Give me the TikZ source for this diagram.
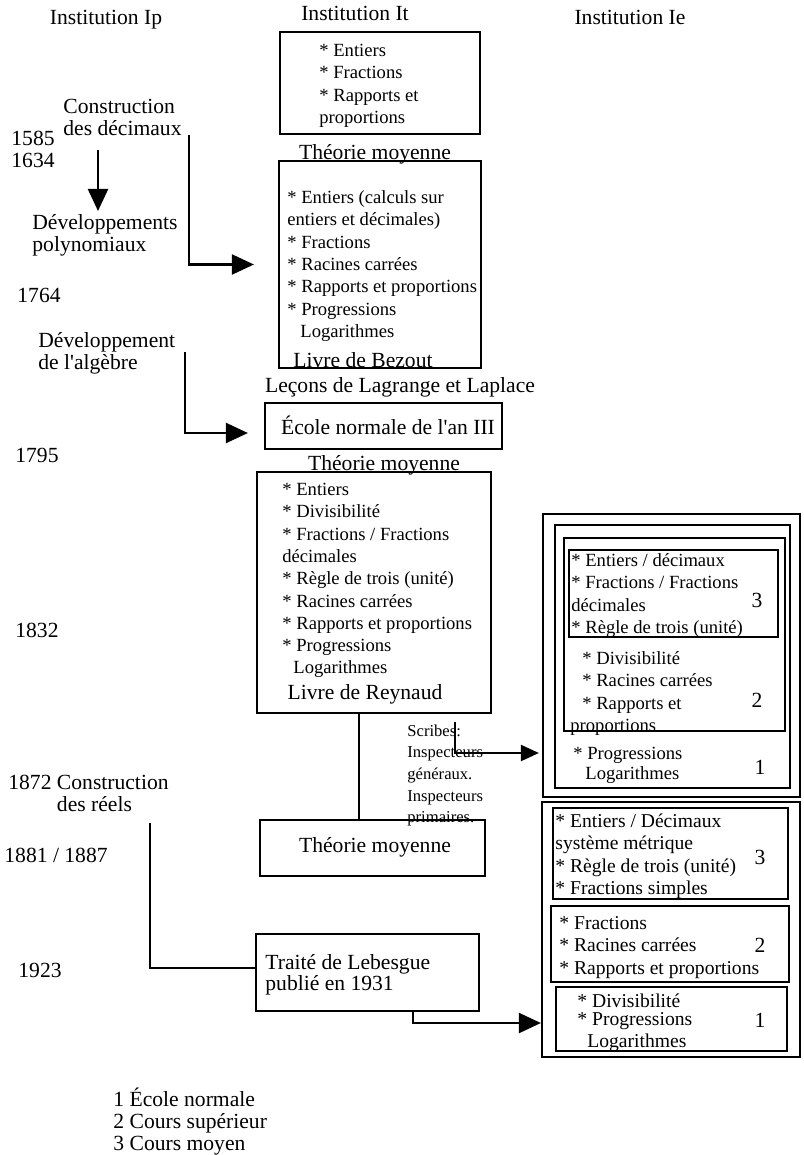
\documentclass[tikz,border=0pt]{standalone}
\usepackage{fontspec}
\setmainfont{Liberation Serif}
\usetikzlibrary{arrows.meta,fit}
\def\fbig{\fontsize{10.8}{11}\selectfont}
\def\flst{\fontsize{9.3}{11.15}\selectfont}
\def\flstb{\fontsize{9.8}{11.3}\selectfont}
\def\fsml{\fontsize{8.3}{10.85}\selectfont}
\def\lnrule{\rule{0pt}{1em}}
\tikzset{
  box/.style={draw, line width=1.1pt, inner sep=0pt},
  txt/.style={inner sep=0pt, align=left, anchor=north west},
  ctr/.style={inner sep=0pt, anchor=north},
  link/.style={line width=1.1pt},
  arr/.style={line width=1.1pt, -{Triangle[length=11pt,width=10pt]}}
}
\begin{document}
\begin{tikzpicture}[x=0.5pt,y=-0.5pt]
%%%%% START %%%%%
\useasboundingbox (0,0) rectangle (803,1155);

\node[ctr, font=\fbig] (tIp) at (106,2.5) {\lnrule Institution Ip};
\node[ctr, font=\fbig] (tIt) at (355,-1.5) {\lnrule Institution It};
\node[ctr, font=\fbig] (tIe) at (630,2.5) {\lnrule Institution Ie};

% Ip
\node[txt, font=\fbig] (cdec) at (63,91.5) {\lnrule Construction\\des décimaux};
\node[txt, font=\fbig] (y1585) at (11,123.5) {\lnrule 1585\\1634};
\node[txt, font=\fbig] (dpoly) at (32,207.5) {\lnrule Développements\\polynomiaux};
\node[txt, font=\fbig] (y1764) at (17,280.5) {\lnrule 1764};
\node[txt, font=\fbig] (dalg) at (38,325.5) {\lnrule Développement\\de l\textquotesingle algèbre};
\node[txt, font=\fbig] (y1795) at (15,440.5) {\lnrule 1795};
\node[txt, font=\fbig] (y1832) at (15,615.5) {\lnrule 1832};
\node[txt, font=\fbig] (creel) at (8,767.5) {\lnrule 1872 Construction\\\phantom{1872 }des réels};
\node[txt, font=\fbig] (y1881) at (4,840.5) {\lnrule 1881 / 1887};
\node[txt, font=\fbig] (y1923) at (18,955.5) {\lnrule 1923};
\node[txt, font=\fbig] (legend) at (113,1084.5) {\lnrule 1 École normale\\2 Cours supérieur\\3 Cours moyen};

% It
\node[box, fit={(280,32) (480,134)}] (bA) {};
\node[txt, font=\flst] (lA) at (319,37.5) {\lnrule * Entiers\\* Fractions\\* Rapports et\\proportions};
\node[ctr, font=\fbig] (th1) at (375,137.5) {\lnrule Théorie moyenne};

\node[box, fit={(279,161) (481,368)}] (bB) {};
\node[txt, font=\flst] (lB) at (287,184.5) {\lnrule * Entiers (calculs sur\\entiers et décimales)\\* Fractions\\* Racines carrées\\* Rapports et proportions\\* Progressions\\\hspace*{6.5pt}Logarithmes};
\node[ctr, font=\fbig] (bezout) at (363,345.5) {\lnrule Livre de Bezout};
\node[ctr, font=\fbig] (lecons) at (400,370.5) {\lnrule Leçons de Lagrange et Laplace};

\node[box, fit={(265,403) (502,449)}] (bC) {};
\node[ctr, font=\fbig] (ecole) at (388,412.5) {\lnrule École normale de l\textquotesingle an III};
\node[ctr, font=\fbig] (th2) at (384,448.5) {\lnrule Théorie moyenne};

\node[box, fit={(257,472) (491,713)}] (bD) {};
\node[txt, font=\flst] (lD) at (282,476.5) {\lnrule * Entiers\\* Divisibilité\\* Fractions / Fractions\\décimales\\* Règle de trois (unité)\\* Racines carrées\\* Rapports et proportions\\* Progressions\\\hspace*{5.5pt}Logarithmes};
\node[ctr, font=\fbig] (reynaud) at (365,677.5) {\lnrule Livre de Reynaud};

\node[txt, font=\fsml] (scribes) at (407,719) {\lnrule Scribes:\\Inspecteurs\\généraux.\\Inspecteurs\\primaires.};

\node[box, fit={(260,820) (485,876)}] (bE) {};
\node[ctr, font=\fbig] (th3) at (375,830.5) {\lnrule Théorie moyenne};

\node[box, fit={(256,934) (479,1011)}] (bF) {};
\node[txt, font=\fbig] (lebesgue) at (265,947.5) {\lnrule Traité de Lebesgue\\[-0.5pt]publié en 1931};

% Ie 1832
\node[box, fit={(543,514) (800,797)}] (bRo) {};
\node[box, fit={(555,525) (790,788)}] (bR1) {};
\node[box, fit={(564,538) (785,731)}] (bR2) {};
\node[box, fit={(569,550) (778,637)}] (bR3) {};
\node[txt, font=\flst] (lR3) at (571,547.5) {\lnrule * Entiers / décimaux\\* Fractions / Fractions\\décimales\\* Règle de trois (unité)};
\node[txt, font=\flst] (lR2) at (570,645.5) {\lnrule\hspace*{6pt}* Divisibilité\\\hspace*{6pt}* Racines carrées\\\hspace*{6pt}* Rapports et\\proportions};
\node[txt, font=\flst] (lR1) at (573,740.5) {\lnrule * Progressions\\[-1.2pt]\hspace*{6pt}Logarithmes};
\node[ctr, font=\fbig] (nR3) at (757,585.5) {\lnrule 3};
\node[ctr, font=\fbig] (nR2) at (757,685.5) {\lnrule 2};
\node[ctr, font=\fbig] (nR1) at (760,752.5) {\lnrule 1};

% Ie 1923
\node[box, fit={(542,802) (800,1057)}] (bRl) {};
\node[box, fit={(553,808) (788,899)}] (bL3) {};
\node[box, fit={(551,906) (789,982)}] (bL2) {};
\node[box, fit={(556,987) (787,1051)}] (bL1) {};
\node[txt, font=\flstb] (lL3) at (555,807) {\lnrule * Entiers / Décimaux\\système métrique\\* Règle de trois (unité)\\* Fractions simples};
\node[txt, font=\flstb] (lL2) at (559,909) {\lnrule * Fractions\\* Racines carrées\\* Rapports et proportions};
\node[txt, font=\flstb] (lL1) at (577,987) {\lnrule * Divisibilité\\[-2.3pt]* Progressions\\\hspace*{5pt}Logarithmes};
\node[ctr, font=\fbig] (nL3) at (760,842.5) {\lnrule 3};
\node[ctr, font=\fbig] (nL2) at (760,930.5) {\lnrule 2};
\node[ctr, font=\fbig] (nL1) at (760,1005.5) {\lnrule 1};

% links
\coordinate (a0) at (98,150);
\coordinate (a1) at (98,211);
\draw[arr] (a0) -- (a1);
\coordinate (c1) at (189,135);
\draw[arr, shorten >=12pt] (c1) |- (bB.west);
\coordinate (c2) at (185,352);
\draw[arr, shorten >=8pt] (c2) |- ([yshift=-3.5pt]bC.west);
\draw[link] ([xshift=-7.5pt]bD.south) -- ([xshift=-7.5pt]bD.south |- bE.north);
\coordinate (c4) at (455,722);
\draw[arr, -{Triangle[length=9pt,width=8pt]}, shorten >=1.5pt] (c4) |- ([yshift=-48.75pt]bRo.west);
\coordinate (c5) at (150,823);
\draw[link] (c5) |- ([yshift=2.25pt]bF.west);
\draw[arr] ([xshift=22.75pt]bF.south) |- ([yshift=-46.75pt]bRl.west);

%%%%% END %%%%%
\end{tikzpicture}
\end{document}
